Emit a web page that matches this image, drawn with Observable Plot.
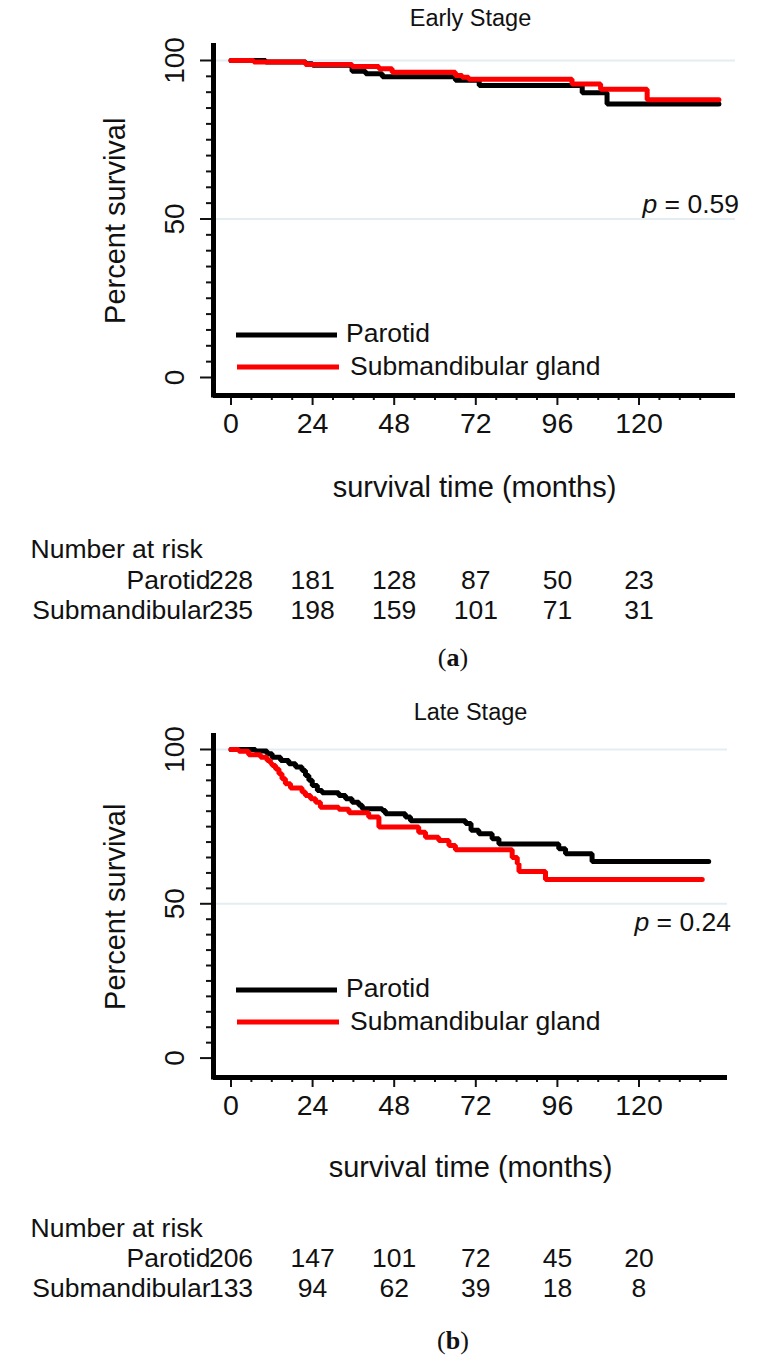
<!DOCTYPE html>
<html><head><meta charset="utf-8">
<script src="https://cdn.jsdelivr.net/npm/d3@7"></script>
<script src="https://cdn.jsdelivr.net/npm/@observablehq/plot@0.6"></script>
<style>
body{margin:0;background:#fff;}
#wrap{position:relative;width:761px;height:1363px;overflow:hidden;background:#fff;}
.panel{position:absolute;left:0;}
#ov{position:absolute;left:0;top:0;pointer-events:none;}
</style></head><body><div id="wrap"></div>
<script>
// ---------- data ----------
const xMajor = [0, 24, 48, 72, 96, 120];
const xMinor = [6, 12, 18, 30, 36, 42, 54, 60, 66, 78, 84, 90, 102, 108, 114, 126, 132, 138];
const yMajor = [0, 50, 100];
const yMinor = [5, 10, 15, 20, 25, 30, 35, 40, 45, 55, 60, 65, 70, 75, 80, 85, 90, 95];
const gridY = [50, 100];

const earlyParotidTime = [0, 10.2, 22, 24, 35.6, 39.6, 44.5, 66, 73, 103.3, 110.6, 143.5];
const earlyParotidSurv = [100, 99.5, 99.0, 98.5, 96.6, 95.8, 94.9, 93.8, 92.1, 89.8, 86.3, 86.3];
const earlySubTime = [0, 6.7, 21.9, 35.6, 43.5, 47.4, 66, 68, 69.9, 100.3, 108.7, 122.4, 143.5];
const earlySubSurv = [100, 99.5, 98.7, 98.1, 97.4, 96.3, 95.3, 94.7, 94.1, 92.6, 90.9, 87.6, 87.6];

const lateParotidTime = [0, 7.2, 10.6, 12.1, 14.6, 17.0, 19.0, 20.9, 21.9, 22.9, 23.9, 25.4, 26.8, 31.7, 33.7, 35.6, 37.6, 38.6, 44.5, 45.4, 51.3, 52.8, 69.0, 70.6, 72.9, 76.8, 78.8, 96.4, 98.4, 106.2, 140.5];
const lateParotidSurv = [100, 99.5, 98.6, 97.5, 96.4, 95.4, 94.3, 93.2, 91.6, 90.0, 88.3, 86.7, 86.0, 85.1, 84.0, 82.9, 81.9, 80.8, 80.2, 79.2, 78.1, 76.9, 76.0, 73.8, 72.7, 71.1, 69.4, 67.8, 66.2, 63.7, 63.7];
const lateSubTime = [0, 2.3, 5.2, 8.7, 10.6, 11.6, 12.1, 13.1, 14.1, 15.0, 16.0, 17.5, 20.9, 21.9, 23.4, 24.9, 26.3, 31.7, 34.7, 40.5, 43.5, 55.2, 57.2, 61.1, 64.1, 66.0, 82.7, 84.2, 84.7, 92.5, 138.6];
const lateSubSurv = [100, 99.4, 98.3, 97.5, 96.4, 95.5, 94.8, 93.7, 92.1, 90.5, 88.9, 87.5, 86.2, 85.1, 84.0, 82.9, 81.3, 80.6, 79.5, 78.1, 74.9, 73.2, 71.6, 70.5, 68.9, 67.5, 65.0, 63.0, 60.5, 57.9, 57.9];

const riskMonths = [0, 24, 48, 72, 96, 120];
const earlyParotidRisk = [228, 181, 128, 87, 50, 23];
const earlySubRisk = [235, 198, 159, 101, 71, 31];
const lateParotidRisk = [206, 147, 101, 72, 45, 20];
const lateSubRisk = [133, 94, 62, 39, 18, 8];

const seriesNames = ["Parotid", "Submandibular gland"];
const riskLabels = ["Parotid", "Submandibular"];
const titles = ["Early Stage", "Late Stage"];
const pValues = ["0.59", "0.24"];
const captions = ["a", "b"];

(function () {
// ---------- drawing ----------
const FONT = "'Liberation Sans', Arial, Helvetica, sans-serif";
const INK = "#111";
const RISK_FS = 26.5;
const pts = (t, s) => t.map((d, i) => ({t: d, s: s[i]}));

function makePanel(o) {
  return Plot.plot({
    width: 761, height: o.height,
    marginTop: o.mt, marginBottom: o.mb, marginLeft: 213, marginRight: o.mr,
    style: {fontFamily: FONT, color: INK, background: "transparent", overflow: "visible"},
    x: {domain: o.xDomain, label: null},
    y: {domain: o.yDomain, label: null},
    marks: [
      Plot.ruleY(gridY, {stroke: "#e4eef2", strokeWidth: 2}),
      Plot.axisY({ticks: yMinor, tickSize: 7, tickFormat: () => "", label: null, strokeWidth: 2}),
      Plot.axisY({ticks: yMajor, tickSize: 13, tickFormat: () => "", label: null, strokeWidth: 2}),
      Plot.text(yMajor, {y: d => d, text: d => String(d), frameAnchor: "left", dx: -38, rotate: -90,
        fontSize: 28, lineAnchor: "middle", textAnchor: "middle", fill: INK}),
      Plot.axisX({ticks: xMinor, tickSize: 5, tickFormat: () => "", label: null, strokeWidth: 2}),
      Plot.axisX({ticks: xMajor, tickSize: 10, tickPadding: 7, fontSize: 28.5, label: null, strokeWidth: 2, fill: INK}),
      Plot.ruleY([o.yDomain[0]], {strokeWidth: 5, stroke: "#000"}),
      Plot.ruleX([o.xDomain[0]], {strokeWidth: 5, stroke: "#000", strokeLinecap: "square"}),
      Plot.line(pts(o.blackT, o.blackS), {x: "t", y: "s", stroke: "#000", strokeWidth: 5,
        curve: "step-after", strokeLinejoin: "miter"}),
      Plot.line(pts(o.redT, o.redS), {x: "t", y: "s", stroke: "#ff0000", strokeWidth: 5,
        curve: "step-after", strokeLinejoin: "miter"}),
      Plot.text([o.title], {frameAnchor: "top", dx: o.titleDx, dy: o.titleDy, fontSize: 23.5, lineAnchor: "middle", fill: INK}),
      Plot.text(["survival time (months)"], {frameAnchor: "bottom", dy: o.xtDy, fontSize: 29, lineAnchor: "middle", fill: INK}),
      Plot.text(["Percent survival"], {frameAnchor: "left", dx: -98, rotate: -90, fontSize: 29,
        textAnchor: "middle", lineAnchor: "middle", fill: INK}),
      // number at risk table
      Plot.text(["Number at risk"], {frameAnchor: "bottom-left", dx: -183, dy: o.riskDy[0], textAnchor: "start",
        lineAnchor: "middle", fontSize: RISK_FS, fill: INK}),
      Plot.text([riskLabels[0]], {frameAnchor: "bottom-left", dx: -3, dy: o.riskDy[1], textAnchor: "end",
        lineAnchor: "middle", fontSize: RISK_FS, fill: INK}),
      Plot.text([riskLabels[1]], {frameAnchor: "bottom-left", dx: -3, dy: o.riskDy[2], textAnchor: "end",
        lineAnchor: "middle", fontSize: RISK_FS, fill: INK}),
      Plot.text(riskMonths, {x: d => d, text: (d, i) => String(o.riskA[i]), frameAnchor: "bottom", dy: o.riskDy[1],
        lineAnchor: "middle", fontSize: RISK_FS, fill: INK}),
      Plot.text(riskMonths, {x: d => d, text: (d, i) => String(o.riskB[i]), frameAnchor: "bottom", dy: o.riskDy[2],
        lineAnchor: "middle", fontSize: RISK_FS, fill: INK})
    ]
  });
}

const wrap = document.getElementById("wrap");

const topPanel = makePanel({
  height: 680, mt: 45.5, mb: 285, mr: 26,
  xDomain: [-5.147, 148.38], yDomain: [-5.68, 104.57],
  blackT: earlyParotidTime, blackS: earlyParotidSurv, redT: earlySubTime, redS: earlySubSurv,
  title: titles[0], titleDx: -4, titleDy: -27.5, xtDy: 92, riskDy: [154, 185, 215],
  riskA: earlyParotidRisk, riskB: earlySubRisk
});
topPanel.classList.add("panel"); topPanel.style.top = "0px";
wrap.appendChild(topPanel);

const botPanel = makePanel({
  height: 683, mt: 55.5, mb: 286, mr: 34,
  xDomain: [-5.147, 146.03], yDomain: [-6.29, 104.37],
  blackT: lateParotidTime, blackS: lateParotidSurv, redT: lateSubTime, redS: lateSubSurv,
  title: titles[1], titleDx: 0, titleDy: -23.5, xtDy: 90, riskDy: [151, 181, 211],
  riskA: lateParotidRisk, riskB: lateSubRisk
});
botPanel.classList.add("panel"); botPanel.style.top = "680px";
wrap.appendChild(botPanel);

// ---------- overlays: legends, p values, captions ----------
const legends = [
  {bY: 335, rY: 367, tB: 342, tR: 375},
  {bY: 990, rY: 1022, tB: 997, tR: 1030}
];
const pPos = [{x: 739, y: 213}, {x: 731, y: 931}];
const capPos = [{x: 453, y: 666}, {x: 453, y: 1349}];
let svg = `<svg id="ov" width="761" height="1363" xmlns="http://www.w3.org/2000/svg" font-family="${FONT}" fill="${INK}">`;
legends.forEach((L, k) => {
  svg += `<line x1="236" x2="337" y1="${L.bY}" y2="${L.bY}" stroke="#000" stroke-width="5"/>`;
  svg += `<text x="346" y="${L.tB}" font-size="26.5">${seriesNames[0]}</text>`;
  svg += `<line x1="237" x2="339" y1="${L.rY}" y2="${L.rY}" stroke="#ff0000" stroke-width="5"/>`;
  svg += `<text x="350" y="${L.tR}" font-size="26.5">${seriesNames[1]}</text>`;
  svg += `<text x="${pPos[k].x}" y="${pPos[k].y}" font-size="26.5" text-anchor="end"><tspan font-style="italic">p</tspan> = ${pValues[k]}</text>`;
  svg += `<text x="${capPos[k].x}" y="${capPos[k].y}" font-size="26" text-anchor="middle" font-family="'Liberation Serif', 'DejaVu Serif', serif">(<tspan font-weight="bold">${captions[k]}</tspan>)</text>`;
});
svg += `</svg>`;
wrap.insertAdjacentHTML("beforeend", svg);
})();
</script>
</body></html>
